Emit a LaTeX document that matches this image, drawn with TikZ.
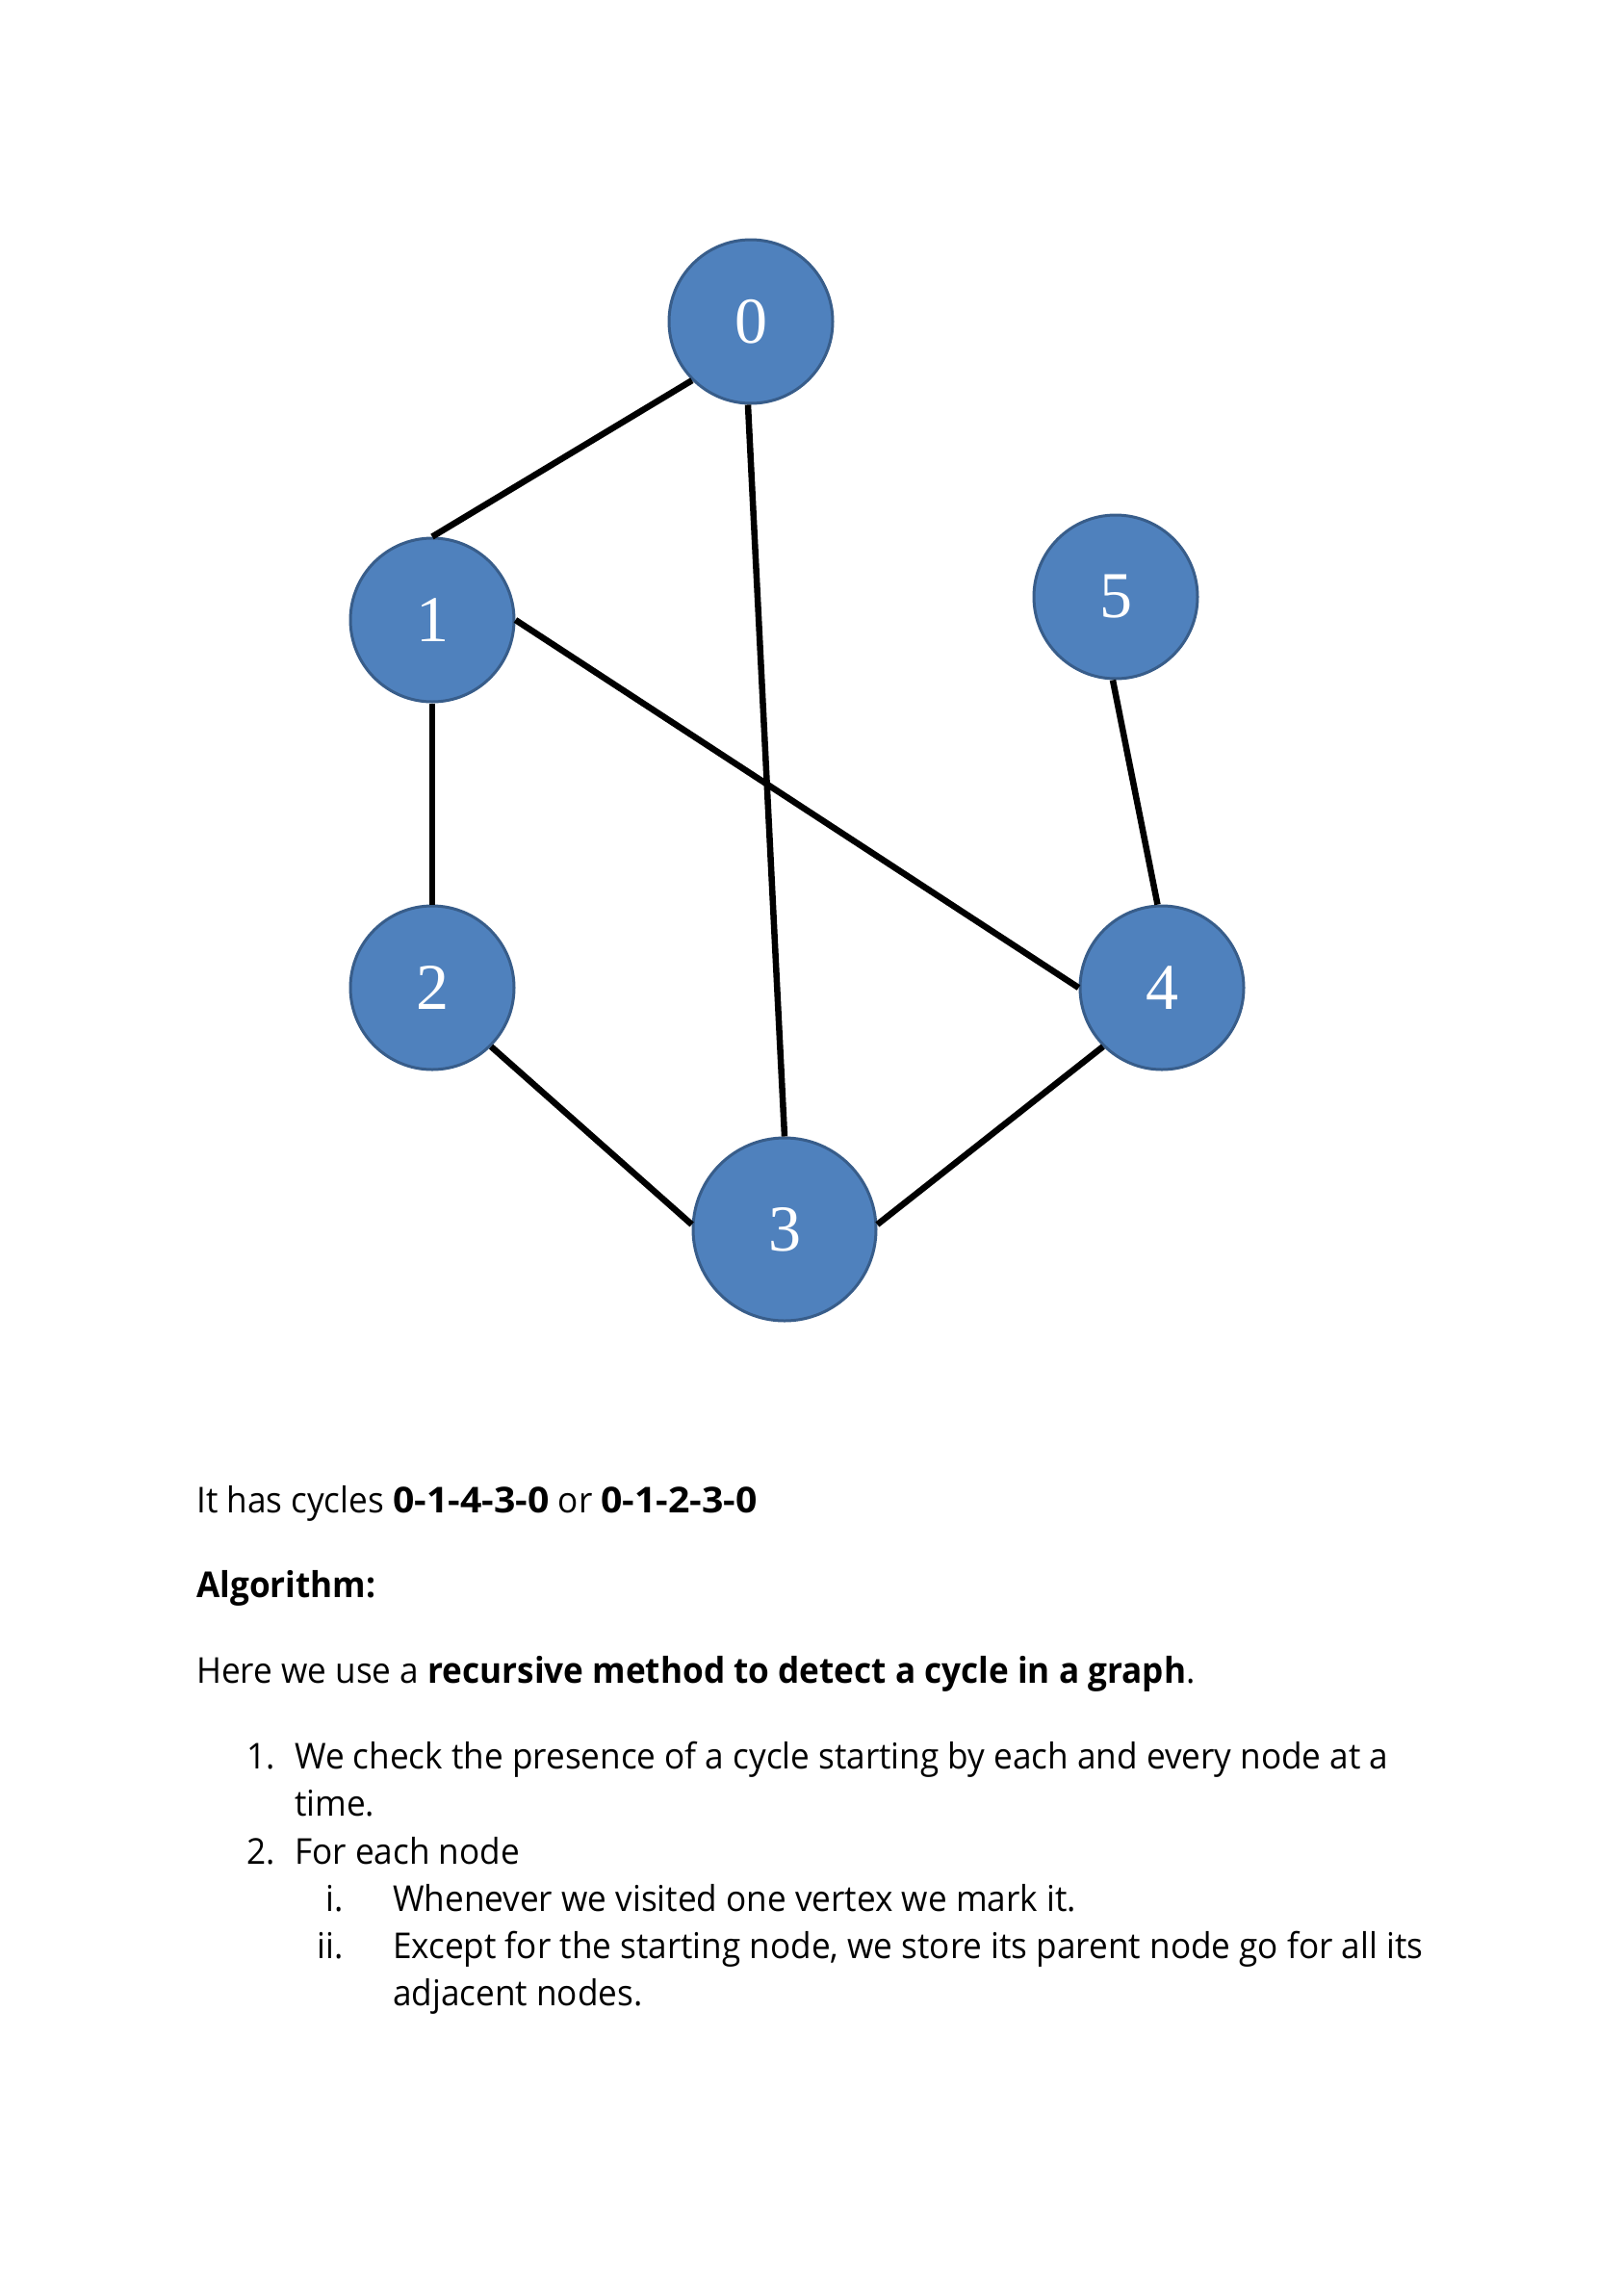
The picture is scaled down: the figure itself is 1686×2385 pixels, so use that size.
\documentclass[tikz,border=0pt]{standalone}
\usepackage{fontspec}
\setmainfont{Open Sans}[FakeStretch=0.95]
\newfontfamily\cyclefont{Open Sans}[FakeStretch=1.06,UprightFont=*,BoldFont=* Bold]
\newfontfamily\digitfont{Liberation Serif}
\newcommand{\cycle}[1]{{\cyclefont\bfseries #1}}
\begin{document}
\begin{tikzpicture}[x=1pt,y=-1pt,
  vertex/.style={circle,fill=vfill,draw=vedge,line width=3pt,minimum size=170pt,inner sep=0pt,
    text=white,font=\digitfont\fontsize{68}{68}\selectfont},
  bigvertex/.style={vertex,minimum size=190pt},
  edge/.style={line width=6.5pt,black},
  txt/.style={anchor=base west,inner sep=0pt,font=\fontsize{37}{44}\selectfont}]
\definecolor{vfill}{RGB}{79,129,189}
\definecolor{vedge}{RGB}{56,93,138}
\useasboundingbox[fill=white] (0,0) rectangle (1686,2385);

% graph vertices
\node[vertex] (n0) at (780,334) {0};
\node[vertex] (n1) at (449,644) {1};
\node[vertex] (n5) at (1159,620) {5};
\node[vertex] (n2) at (449,1026) {2};
\node[vertex] (n4) at (1207,1026) {4};
\node[bigvertex] (n3) at (815,1277) {3};

% edges between vertex borders
\draw[edge] (n0.225) -- (n1.90);
\draw[edge] (n0.268) -- (n3.90);
\draw[edge] (n1.0) -- (n4.180);
\draw[edge] (n1.270) -- (n2.90);
\draw[edge] (n5.268) -- (n4.93);
\draw[edge] (n2.-45) -- (n3.177);
\draw[edge] (n3.3) -- (n4.225);

% text below the graph
\node[txt] (t1) at (204,1571) {It has cycles \cycle{0-1-4-3-0} or \cycle{0-1-2-3-0}};
\node[txt] (t2) at (204,1659) {\textbf{Algorithm:}};
\node[txt] (t3) at (204,1748) {Here we use a \textbf{recursive method to detect a cycle in a graph}.};
\node[txt] (l1) at (256,1837) {1.};
\node[txt] (l1a) at (306,1837) {We check the presence of a cycle starting by each and every node at a};
\node[txt] (l1b) at (306,1886) {time.};
\node[txt] (l2) at (256,1936) {2.};
\node[txt] (l2a) at (306,1936) {For each node};
\node[txt,anchor=base east] (li) at (357,1985) {i.};
\node[txt] (lia) at (408,1985) {Whenever we visited one vertex we mark it.};
\node[txt,anchor=base east] (lii) at (357,2034) {ii.};
\node[txt] (liia) at (408,2034) {Except for the starting node, we store its parent node go for all its};
\node[txt] (liib) at (408,2083) {adjacent nodes.};
\end{tikzpicture}
\end{document}
